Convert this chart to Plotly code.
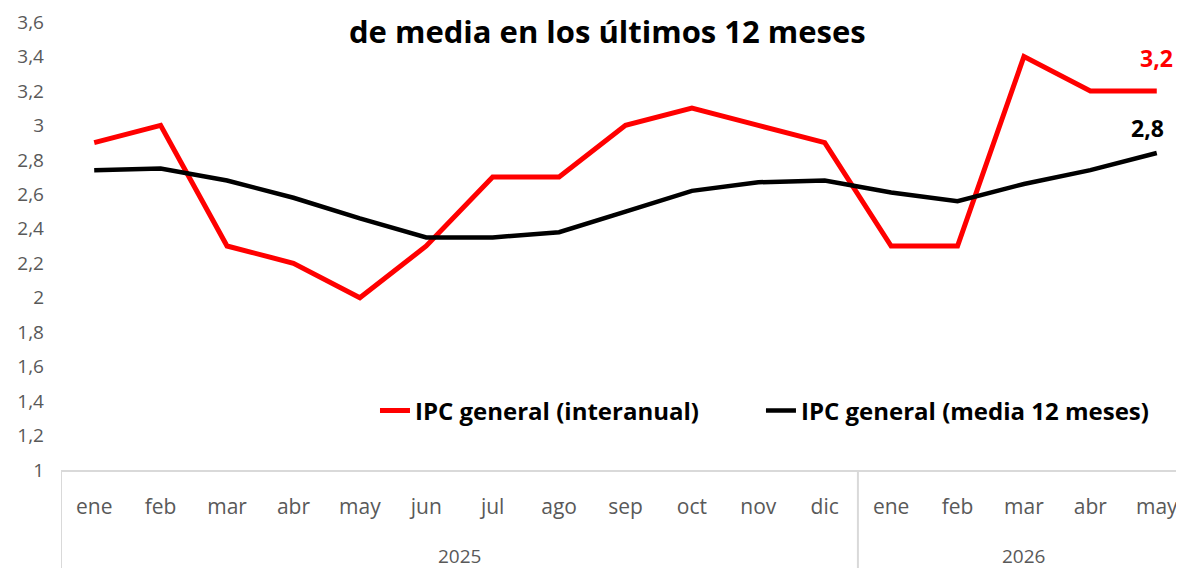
import plotly.graph_objects as go

months = ["ene", "feb", "mar", "abr", "may", "jun", "jul", "ago", "sep", "oct", "nov", "dic",
          "ene", "feb", "mar", "abr", "may"]
years = ["2025", "2026"]
year_spans = [(0, 11), (12, 16)]
ipc_interanual = [2.9, 3.0, 2.3, 2.2, 2.0, 2.3, 2.7, 2.7, 3.0, 3.1, 3.0, 2.9, 2.3, 2.3, 3.4, 3.2, 3.2]
ipc_media12 = [2.74, 2.75, 2.68, 2.58, 2.46, 2.35, 2.35, 2.38, 2.50, 2.62, 2.67, 2.68, 2.61, 2.56, 2.66, 2.74, 2.84]
yticks = [1, 1.2, 1.4, 1.6, 1.8, 2, 2.2, 2.4, 2.6, 2.8, 3, 3.2, 3.4, 3.6]
ytick_text = ["1", "1,2", "1,4", "1,6", "1,8", "2", "2,2", "2,4", "2,6", "2,8", "3", "3,2", "3,4", "3,6"]
title_text = "de media en los últimos 12 meses"

FONT = "Open Sans"
x = list(range(len(months)))

W, H = 1176, 560
ML, MT, MB = 53, 14, 98
plot_h = H - MT - MB

fig = go.Figure()
fig.add_trace(go.Scatter(x=x, y=ipc_interanual, mode="lines", name="<b>IPC general (interanual)</b>",
                         line=dict(color="#ff0000", width=5), legend="legend"))
fig.add_trace(go.Scatter(x=x, y=ipc_media12, mode="lines", name="<b>IPC general (media 12 meses)</b>",
                         line=dict(color="#000000", width=4.5), legend="legend2"))

# end labels
fig.add_annotation(x=x[-1], y=ipc_interanual[-1], text="<b>3,2</b>", showarrow=False,
                   yshift=33, xshift=0, font=dict(family=FONT, size=23, color="#ff0000"))
fig.add_annotation(x=x[-1], y=ipc_media12[-1], text="<b>2,8</b>", showarrow=False,
                   yshift=25, xshift=-9, font=dict(family=FONT, size=23, color="#000000"))

# year labels
for yr, (a, b) in zip(years, year_spans):
    fig.add_annotation(x=(a + b) / 2, y=-86 / plot_h, xref="x", yref="paper", text=yr, showarrow=False,
                       yanchor="middle", font=dict(family=FONT, size=19, color="#595959"))

# dividers
for xv in [-0.5, 11.5]:
    fig.add_shape(type="line", x0=xv, x1=xv, y0=0, y1=-0.25, xref="x", yref="paper",
                  line=dict(color="#d9d9d9", width=2))

fig.add_annotation(x=0.487, y=1 + MT / plot_h, xref="paper", yref="paper", text="<b>" + title_text + "</b>",
                   showarrow=False, yanchor="top",
                   font=dict(family=FONT, size=31, color="#000000"))

legend_style = dict(orientation="h", xanchor="left", y=59 / plot_h, yanchor="middle",
                    font=dict(family=FONT, size=24, color="#000000"), bgcolor="rgba(0,0,0,0)")

fig.update_layout(
    width=W, height=H,
    margin=dict(l=ML, r=0, t=MT, b=MB, autoexpand=False),
    paper_bgcolor="white", plot_bgcolor="white",
    showlegend=True,
    legend=dict(x=0.2796, **legend_style),
    legend2=dict(x=0.6233, **legend_style),
    xaxis=dict(range=[-0.5, 16.41], tickmode="array", tickvals=x, ticktext=months,
               showgrid=False, zeroline=False, showline=True, linecolor="#d9d9d9", linewidth=2,
               ticks="", ticklabelstandoff=17, tickfont=dict(family=FONT, size=21, color="#595959")),
    yaxis=dict(range=[1, 3.6], tickmode="array", tickvals=yticks, ticktext=ytick_text,
               showgrid=False, zeroline=False, showline=False, ticks="", ticklabelstandoff=16,
               tickfont=dict(family=FONT, size=19, color="#595959")),
)

fig.write_html("out.html")
